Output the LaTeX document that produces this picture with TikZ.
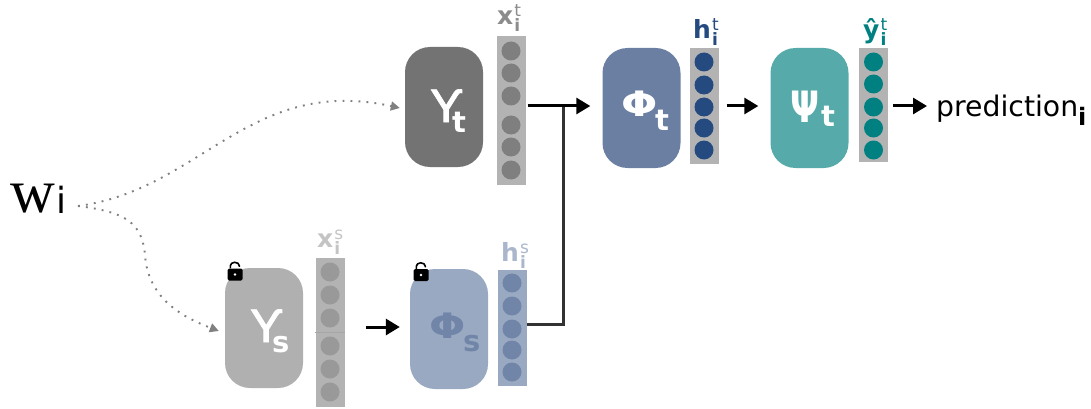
\documentclass[tikz,border=0pt]{standalone}
\usepackage{fontspec}
\usepackage{graphicx}
\setmainfont{DejaVu Sans}
\newfontfamily\wfont{Liberation Serif}
\newfontfamily\upfont[FakeBold=1.6]{Noto Sans}
\usetikzlibrary{arrows.meta}
\definecolor{colgray}{HTML}{B3B3B3}
\definecolor{upt}{HTML}{737373}
\definecolor{phit}{HTML}{6B7FA3}
\definecolor{psit}{HTML}{56ABAA}
\definecolor{ups}{HTML}{B0B0B0}
\definecolor{phis}{HTML}{9AA9C2}
\definecolor{dotx}{HTML}{7F7F7F}
\definecolor{doth}{HTML}{244A80}
\definecolor{doty}{HTML}{008080}
\definecolor{dotxs}{HTML}{999999}
\definecolor{doths}{HTML}{7085A8}
\definecolor{labx}{HTML}{8C8C8C}
\definecolor{labxs}{HTML}{C4C4C4}
\definecolor{labhs}{HTML}{A9B6CC}
\definecolor{dotline}{HTML}{808080}
\definecolor{joinc}{HTML}{333333}
\newcommand{\fsz}[1]{\fontsize{#1}{#1}\selectfont}
\newcommand{\subt}[1]{{\fsz{29}\bfseries #1}}
\newcommand{\upsi}{\scalebox{1.2}[1.03]{\upfont\fsz{44}ϒ}}
\newcommand{\lab}[2]{{\fsz{25}\bfseries #1}\kern1pt\rlap{\raisebox{8pt}{\fsz{17}#2}}\raisebox{-7pt}{\fsz{17}\bfseries i}}
\tikzset{
  x=1pt,y=-1pt,
  block/.style={rounded corners=25pt,minimum width=78pt,minimum height=120pt,inner sep=0pt},
  column/.style={fill=colgray,minimum width=29pt,inner sep=0pt},
  neuron/.style={circle,minimum size=19pt,inner sep=0pt},
  flow/.style={line width=3pt,-{Triangle[length=14pt,width=16pt]}},
  feed/.style={draw=dotline,line width=1.9pt,dash pattern=on 1.9pt off 6.1pt,-{Triangle[length=9pt,width=9pt,color=dotline]}},
  joinline/.style={draw=joinc,line width=3pt},
  lockbody/.style={fill=black,rounded corners=1.5pt},
  lockarc/.style={draw=black,line width=1.6pt},
  tag/.style={inner sep=0pt},
  blocktext/.style={inner sep=0pt,text=white,anchor=base west}
}
\begin{document}
\begin{tikzpicture}
\useasboundingbox (0,0) rectangle (1091,409);
% blocks
\node[block,fill=upt] (upt) at (444,107) {};
\node[block,fill=phit] (phit) at (641.5,108) {};
\node[block,fill=psit] (psit) at (809.5,108) {};
\node[block,fill=ups] (ups) at (264,328) {};
\node[block,fill=phis] (phis) at (449,329) {};
% block texts
\node[blocktext] (uptg) at (431,122) {\upsi};
\node[blocktext] (uptt) at (452,132) {\subt{t}};
\node[blocktext] (phitg) at (621,117) {\scalebox{1.22}[1]{\fsz{35}\bfseries Φ}};
\node[blocktext] (phitt) at (655,130) {\subt{t}};
\node[blocktext] (psitg) at (790,123) {\scalebox{.95}[1.2]{\fsz{36}\bfseries Ψ}};
\node[blocktext] (psitt) at (821,127) {\subt{t}};
\node[blocktext] (upsg) at (251,342) {\upsi};
\node[blocktext] (upss) at (272,352) {\subt{s}};
\node[blocktext,text=doths] (phisg) at (429,338) {\scalebox{1.22}[1]{\fsz{35}\bfseries Φ}};
\node[blocktext,text=doths] (phiss) at (463,351) {\subt{s}};
% columns
\node[column,minimum height=149pt] (xt) at (511,110.5) {};
\node[column,minimum height=116pt] (ht) at (704,106) {};
\node[column,minimum height=114pt] (yt) at (873.5,105) {};
\node[column,minimum height=149pt] (xs) at (330,332.5) {};
\node[column,fill=phis,minimum height=116pt] (hs) at (512,328) {};
\draw[black!35,line width=.5pt] (xs.west |- 0,332) -- (xs.east |- 0,332);
% neurons
\foreach \i/\y in {1/51,2/73,3/96,4/125,5/147,6/170}
  \node[neuron,fill=dotx] (xtn\i) at (511,\y) {};
\foreach \i/\y in {1/62,2/85,3/107,4/128,5/150}
  \node[neuron,fill=doth] (htn\i) at (704,\y) {};
\foreach \i/\y in {1/62,2/84,3/107,4/128,5/150}
  \node[neuron,fill=doty] (ytn\i) at (873.5,\y) {};
\foreach \i/\y in {1/272,2/295,3/318,4/346,5/369,6/392}
  \node[neuron,fill=dotxs] (xsn\i) at (330,\y) {};
\foreach \i/\y in {1/283,2/306,3/329,4/350,5/372}
  \node[neuron,fill=doths] (hsn\i) at (512,\y) {};
% labels
\node[tag,text=labx,anchor=base west] (xtl) at (497,25) {\lab{x}{t}};
\node[tag,text=doth,anchor=base west] (htl) at (693,39) {\lab{h}{t}};
\node[tag,text=doty,anchor=base west] (ytl) at (863,39) {\lab{ŷ}{t}};
\node[tag,text=labxs,anchor=base west] (xsl) at (317,247) {\lab{x}{s}};
\node[tag,text=labhs,anchor=base west] (hsl) at (501,261) {\lab{h}{s}};
% text
\node[tag,anchor=base west] (wi) at (10,212) {{\wfont\fsz{62}w}\kern2pt\raisebox{-1pt}{\fsz{36}i}};
\node[tag,anchor=base west] (pred) at (936,117) {\fsz{28.3}prediction\raisebox{-9pt}{\fsz{24}\bfseries i}};
% locks
\foreach \n/\x/\y in {lockA/235/274.5,lockB/421/275}{
  \node[lockbody,minimum width=15pt,minimum height=12pt,inner sep=0pt] (\n) at (\x,\y) {};
  \draw[lockarc] (\n.north west) ++(3,0) -- ++(0,-2.5) arc[start angle=180,end angle=0,x radius=4.5pt,y radius=3.5pt] -- ++(0,1);
  \fill[white] (\n) circle[radius=1.3pt];
}
% connectors
\coordinate (start) at (78,206);
\coordinate (join) at (563,106);
\coordinate (bend) at (563,324);
\draw[feed] (start) .. controls (200,190) and (250,75) .. ([xshift=-5pt]upt.west |- 0,108);
\draw[feed] (start) .. controls (125,212) and (142,222) .. (145,255) .. controls (148,300) and (185,318) .. ([xshift=-6pt]ups.west |- 0,331);
\draw[joinline] (hs.east |- bend) -- (bend) -- (join);
\draw[flow,shorten >=12pt] (xt.east |- join) ++(2,0) -- (phit.west |- join);
\draw[flow,shorten <=8pt,shorten >=12pt] (ht.east |- 0,106) -- (psit.west |- 0,106);
\draw[flow,shorten <=5pt,shorten >=9pt] (yt.east |- 0,106) -- (pred.west |- 0,106);
\draw[flow,shorten <=21pt,shorten >=10pt] (xs.east |- 0,327) -- (phis.west |- 0,327);
\end{tikzpicture}
\end{document}
